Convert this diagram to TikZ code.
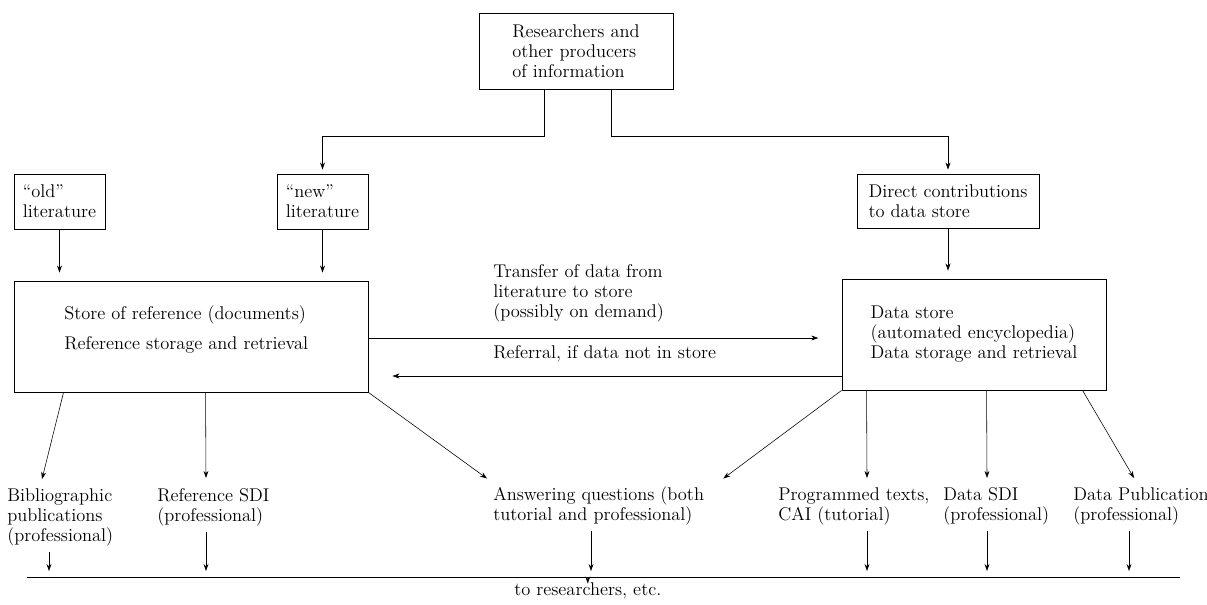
\documentclass[tikz,border=0pt]{standalone}
\usepackage{tikz}
\usetikzlibrary{calc,arrows.meta}

\tikzset{
	box/.style={draw, line width=0.6pt, align=left, inner sep=0pt},
	txt/.style={align=left, inner sep=0pt, anchor=west},
	arr/.style={-{Stealth[length=5pt,width=3.5pt]}, line width=0.4pt},
}

\begin{document}
\begin{tikzpicture}[x=0.025cm, y=-0.025cm, font=\fontsize{13.1}{14.2}\selectfont]
			%%%%% START %%%%%
			\useasboundingbox (0, 0) rectangle (1207, 604);
			
			% sources
			\node[box, minimum width=4.85cm, minimum height=1.9cm] (res) at (576, 51) {Researchers and\\other producers\\of information};
			\node[box, minimum width=2.275cm, minimum height=1.375cm] (old) at (59.5, 201.5) {``old''\\literature};
			\node[box, minimum width=2.275cm, minimum height=1.375cm] (new) at (322.5, 201.5) {``new''\\literature};
			\node[box, minimum width=4.55cm, minimum height=1.35cm] (direct) at (948, 201) {Direct contributions\\to data store};
			
			% the two stores
			\node[box, minimum width=8.85cm, minimum height=2.775cm] (refbox) at (191, 336.5) {};
			\node[txt] (reftext) at (64, 329) {Store of reference (documents)\\[0.25cm]Reference storage and retrieval};
			\node[box, minimum width=6.6cm, minimum height=2.775cm] (datastore) at (974, 334.5) {Data store\\(automated encyclopedia)\\Data storage and retrieval};
			
			\node[txt] (transfer) at (493, 293) {Transfer of data from\\literature to store\\(possibly on demand)};
			\node[txt] (referral) at (493, 354) {Referral, if data not in store};
			
			% services
			\node[txt] (bib) at (7, 517) {Bibliographic\\publications\\(professional)};
			\node[txt] (refsdi) at (157, 507) {Reference SDI\\(professional)};
			\node[txt] (ans) at (493, 506) {Answering questions (both\\tutorial and professional)};
			\node[txt] (prog) at (778, 506) {Programmed texts,\\CAI (tutorial)};
			\node[txt] (datasdi) at (943, 506) {Data SDI\\(professional)};
			\node[txt] (datapub) at (1073, 506) {Data Publication\\(professional)};
			
			\coordinate (outL) at (27, 577);
			\coordinate (outR) at (1180, 577);
			\node[txt] (out) at (514, 591) {to researchers, etc.};
			
			% feeding the stores
			\draw[arr, shorten >=0.1cm] ($(res.south)+(-32, 0)$) |- ($(new.north)+(0, -37)$) -- (new.north);
			\draw[arr, shorten >=0.1cm] ($(res.south)+(35, 0)$) |- ($(direct.north)+(0, -37)$) -- (direct.north);
			\draw[arr, shorten >=0.2cm] (old.south) -- (old.south |- refbox.north);
			\draw[arr, shorten >=0.2cm] (new.south) -- (new.south |- refbox.north);
			\draw[arr, shorten >=0.2cm] (direct.south) -- (direct.south |- datastore.north);
			
			% between the stores
			\draw[arr, shorten >=0.58cm] ($(refbox.east)+(0, 1.5)$) -- ($(datastore.west)+(0, 3.5)$);
			\draw[arr, shorten >=0.6cm] ($(datastore.west)+(0, 41.5)$) -- ($(refbox.east)+(0, 39.5)$);
			
			% out of the stores
			\draw[arr] ($(refbox.south west)+(50, 0)$) -- ($(bib.north west)+(35, -9)$);
			\draw[arr] ($(refbox.south west)+(192, 0)$) -- ($(refsdi.north west)+(49, -10)$);
			\draw[arr] (refbox.south east) -- ($(ans.north west)+(-6, -8)$);
			\draw[arr] (datastore.south west) -- ($(ans.north east)+(19, -8)$);
			\draw[arr] ($(datastore.south west)+(25, 0)$) -- ($(prog.north west)+(89, -9)$);
			\draw[arr] ($(datastore.south west)+(145, 0)$) -- ($(datasdi.north west)+(44, -9)$);
			\draw[arr] ($(datastore.south west)+(241, 0)$) -- ($(datapub.north west)+(61, -9)$);
			
			% to the users
			\draw[line width=0.6pt] (outL) -- (outR);
			\foreach \n/\x in {bib/49, refsdi/206, ans/591, prog/867, datasdi/987, datapub/1129}
				\draw[arr, shorten <=0.15cm, shorten >=0.15cm] (\x,0 |- \n.south) -- (\x,0 |- outL);
			\draw[arr] (out.north |- outL) -- ($(out.north)+(0, 1)$);
			
			%%%%% END %%%%%
\end{tikzpicture}
\end{document}
